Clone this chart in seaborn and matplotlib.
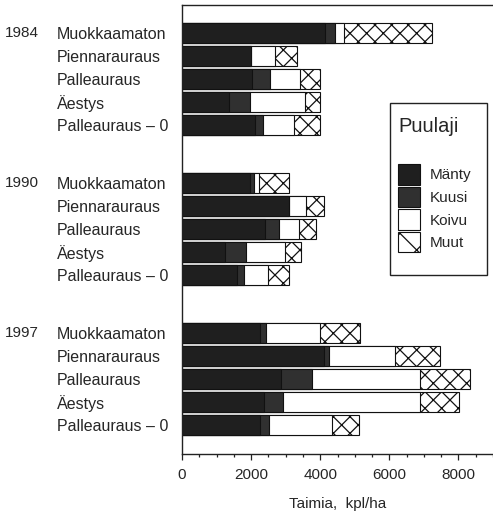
#!/usr/bin/env python3
"""Stacked horizontal bars: seedlings per hectare by tree species, treatment and year."""

import matplotlib.pyplot as plt
import pandas as pd
import seaborn as sns
from matplotlib.patches import Patch, Rectangle
from matplotlib.ticker import MultipleLocator

YEARS = ["1984", "1990", "1997"]
TREATMENTS = ["Muokkaamaton", "Piennarauraus", "Palleauraus", "Äestys", "Palleauraus – 0"]

# Taimia, kpl/ha -- five treatments per year, years in order above
MANTY = [4150, 2000, 2020, 1370, 2120,
         1970, 3100, 2390, 1250, 1600,
         2260, 4100, 2860, 2360, 2260]
KUUSI = [290, 0, 530, 600, 220,
         100, 0, 430, 590, 200,
         170, 140, 900, 560, 260]
KOIVU = [260, 700, 870, 1600, 910,
         170, 490, 570, 1130, 680,
         1550, 1930, 3140, 3960, 1820]
MUUT = [2540, 630, 560, 410, 730,
        860, 530, 480, 470, 620,
        1160, 1300, 1430, 1130, 770]

SPECIES = ["Mänty", "Kuusi", "Koivu", "Muut"]
COLORS = {"Mänty": "#1f1f1f", "Kuusi": "#303030", "Koivu": "white", "Muut": "white"}
HATCHES = {"Mänty": "", "Kuusi": "", "Koivu": "", "Muut": "xx"}
GROUP_STEP = 6.5


def build_frame():
    rows = []
    for g, year in enumerate(YEARS):
        for i, treat in enumerate(TREATMENTS):
            k = g * len(TREATMENTS) + i
            rows.append({"year": year, "treatment": treat, "pos": g * GROUP_STEP + i,
                         "Mänty": MANTY[k], "Kuusi": KUUSI[k],
                         "Koivu": KOIVU[k], "Muut": MUUT[k]})
    df = pd.DataFrame(rows)
    # cumulative ends for layered drawing
    df[[f"cum_{s}" for s in SPECIES]] = df[SPECIES].cumsum(axis=1).values
    return df


def main():
    sns.set_style("ticks")
    plt.rcParams["font.family"] = ["Liberation Sans", "DejaVu Sans"]
    plt.rcParams["hatch.linewidth"] = 0.9

    df = build_frame()

    fig = plt.figure(figsize=(4.93, 5.17), dpi=100)
    ax = fig.add_axes([182 / 493, 63 / 517, 311 / 493, 449 / 517])

    # draw longest first, shorter segments on top
    for s in reversed(SPECIES):
        sns.barplot(data=df, x=f"cum_{s}", y="pos", orient="h", native_scale=True,
                    width=0.88, color=COLORS[s], saturation=1, edgecolor="#111111",
                    linewidth=0.8, hatch=HATCHES[s], errorbar=None, ax=ax)

    ax.set_xlim(0, 9000)
    ax.set_ylim(18.26, -1.21)
    ax.xaxis.set_major_locator(MultipleLocator(2000))
    ax.xaxis.set_minor_locator(MultipleLocator(500))
    ax.tick_params(axis="x", which="major", length=4, width=0.9, labelsize=11, pad=6,
                   direction="out", color="#222222")
    ax.tick_params(axis="x", which="minor", length=2.5, width=0.9, color="#222222")

    ax.set_yticks(df["pos"], df["treatment"])
    ax.tick_params(axis="y", length=0, pad=90, labelsize=11.5)
    for lab in ax.get_yticklabels():
        lab.set_horizontalalignment("left")

    for g, year in enumerate(YEARS):
        ax.text(-0.569, g * GROUP_STEP, year, transform=ax.get_yaxis_transform(),
                ha="left", va="center", fontsize=11)

    ax.set_xlabel("Taimia,  kpl/ha", fontsize=11, labelpad=11)
    ax.set_ylabel("")

    for side in ["left", "bottom", "top"]:
        ax.spines[side].set_linewidth(1.0)
        ax.spines[side].set_color("#222222")
    ax.spines["right"].set_visible(False)

    # legend frame drawn separately so its padding can match the original
    ax.add_patch(Rectangle((0.669, 0.399), 0.312, 0.383, transform=ax.transAxes,
                           facecolor="white", edgecolor="#222222", linewidth=1.0,
                           zorder=4))
    handles = [Patch(facecolor=COLORS[s], edgecolor="#111111", linewidth=0.8,
                     hatch=HATCHES[s].replace("xx", "x"), label=s) for s in SPECIES]
    leg = ax.legend(handles=handles, title="Puulaji", loc="upper left",
                    bbox_to_anchor=(0.6945, 0.750), fontsize=11, title_fontsize=14.5,
                    frameon=False, handlelength=1.45, handleheight=1.7,
                    labelspacing=0.13, handletextpad=0.65, borderpad=0,
                    borderaxespad=0)
    leg.set_zorder(5)
    leg._legend_box.align = "left"
    leg._legend_box.sep = 20

    fig.savefig("out.png", dpi=100)
    plt.close(fig)


if __name__ == "__main__":
    main()
